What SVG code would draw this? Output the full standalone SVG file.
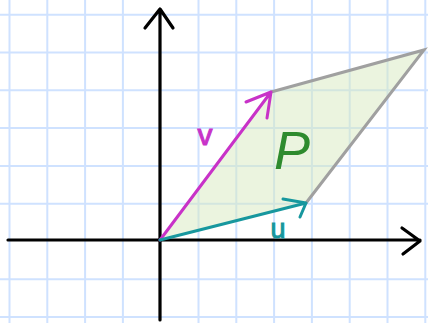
<svg xmlns="http://www.w3.org/2000/svg" width="428" height="323" viewBox="0 0 428 323">
<style>
.grid line{stroke:#cfe2ff;stroke-width:2}
.axis{stroke:#000;stroke-width:3.2;fill:none;stroke-linecap:round;stroke-linejoin:round}
.edge{stroke:#a0a0a0;stroke-width:3;fill:none;stroke-linecap:round}
.vv{stroke:#c832c8;stroke-width:3;fill:none;stroke-linecap:round;stroke-linejoin:round}
.uu{stroke:#17979e;stroke-width:3;fill:none;stroke-linecap:round;stroke-linejoin:round}
.lbl{font-family:"Liberation Sans",Arial,sans-serif}
</style>
<rect width="428" height="323" fill="#fff"/>
<g class="grid">
<line x1="9.5" y1="0" x2="9.5" y2="323"/>
<line x1="47.3" y1="0" x2="47.3" y2="323"/>
<line x1="85.1" y1="0" x2="85.1" y2="323"/>
<line x1="122.9" y1="0" x2="122.9" y2="323"/>
<line x1="198.5" y1="0" x2="198.5" y2="323"/>
<line x1="236.3" y1="0" x2="236.3" y2="323"/>
<line x1="274.1" y1="0" x2="274.1" y2="323"/>
<line x1="311.9" y1="0" x2="311.9" y2="323"/>
<line x1="349.7" y1="0" x2="349.7" y2="323"/>
<line x1="387.5" y1="0" x2="387.5" y2="323"/>
<line x1="425.3" y1="0" x2="425.3" y2="323"/>
<line x1="0" y1="14.7" x2="428" y2="14.7"/>
<line x1="0" y1="52.5" x2="428" y2="52.5"/>
<line x1="0" y1="90.3" x2="428" y2="90.3"/>
<line x1="0" y1="128.1" x2="428" y2="128.1"/>
<line x1="0" y1="165.9" x2="428" y2="165.9"/>
<line x1="0" y1="203.7" x2="428" y2="203.7"/>
<line x1="0" y1="279.3" x2="428" y2="279.3"/>
<line x1="0" y1="317.1" x2="428" y2="317.1"/>
</g>
<g id="parallelogram">
<polygon points="160,240 306,203 424,50 271,92" fill="#d8e9c0" fill-opacity="0.5"/>
<polyline class="edge" points="271,92 424,50 306,203"/>
<text class="lbl" x="292" y="169" font-size="54" font-style="italic" fill="#2e8b2e" text-anchor="middle">P</text>
</g>
<g id="axes">
<path class="axis" d="M8,240 H420 M402,228 L420,241 L403,254"/>
<path class="axis" d="M160,320 V9 M145,28 L160,9 L173,28"/>
</g>
<g id="connectors">
<g id="v">
<path class="vv" d="M160,240 L271,92 M246,102 L271,92 L267,118"/>
<text class="lbl" x="205" y="145" font-size="30" fill="#c832c8" stroke="#c832c8" stroke-width="1" text-anchor="middle">v</text>
</g>
<g id="u">
<path class="uu" d="M160,240 L306,203 M283,199 L306,203 L300,217"/>
<text class="lbl" x="278" y="238" font-size="27" fill="#17979e" stroke="#17979e" stroke-width="1" text-anchor="middle">u</text>
</g>
</g>
</svg>
